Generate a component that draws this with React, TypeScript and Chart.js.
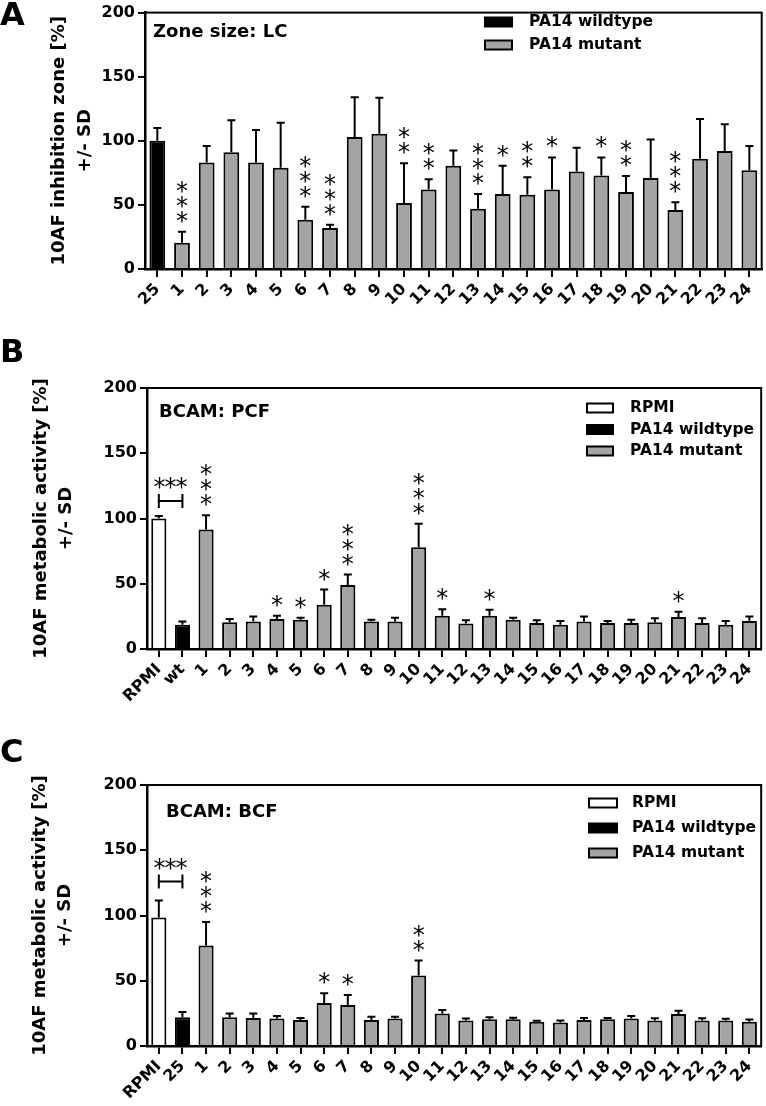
import React, { useEffect, useRef } from 'react';
import { Chart, registerables } from 'chart.js';

Chart.register(...registerables);

const FONT = '"DejaVu Sans", "Liberation Sans", sans-serif';
const GRAY = '#a4a4a4';
const BLACK = '#000000';
const WHITE = '#ffffff';

// ---------- Panel A: Zone size LC ----------
const catsA = ['25', '1', '2', '3', '4', '5', '6', '7', '8', '9', '10', '11', '12', '13', '14', '15', '16', '17', '18', '19', '20', '21', '22', '23', '24'];
const meanA = [100, 20.5, 83, 91, 83, 79, 38.5, 32, 103, 105.5, 51.5, 62, 80.5, 47, 58.5, 58, 62, 76, 73, 60, 71, 46, 86, 92, 77];
const sdA = [10, 8.5, 13, 25, 25.5, 35, 10, 2.5, 31, 28, 31, 8, 12, 11.5, 22, 13.5, 25, 18.5, 14, 12.5, 30, 6, 31, 21, 19];
const starsA = [0, 3, 0, 0, 0, 0, 3, 3, 0, 0, 2, 2, 0, 3, 1, 2, 1, 0, 1, 2, 0, 3, 0, 0, 0];

// ---------- Panel B: BCAM PCF ----------
const catsB = ['RPMI', 'wt', '1', '2', '3', '4', '5', '6', '7', '8', '9', '10', '11', '12', '13', '14', '15', '16', '17', '18', '19', '20', '21', '22', '23', '24'];
const meanB = [100, 18.5, 91.5, 20.5, 21, 23, 22.5, 34, 49, 21, 21, 78, 25.5, 19.5, 25.5, 22.5, 20, 18.5, 21, 20, 20, 20.5, 24.5, 20, 18.5, 21.5];
const sdB = [2, 2.5, 11, 2.5, 4, 2.5, 1.5, 11.5, 8, 1.5, 3, 18, 5, 2.5, 4.5, 1.5, 2, 3, 4, 1.5, 2.5, 3, 4, 3.5, 3, 3.5];
const starsB = [0, 0, 3, 0, 0, 1, 1, 1, 3, 0, 0, 3, 1, 0, 1, 0, 0, 0, 0, 0, 0, 0, 1, 0, 0, 0];

// ---------- Panel C: BCAM BCF ----------
const catsC = ['RPMI', '25', '1', '2', '3', '4', '5', '6', '7', '8', '9', '10', '11', '12', '13', '14', '15', '16', '17', '18', '19', '20', '21', '22', '23', '24'];
const meanC = [98.5, 22, 77, 22, 21.5, 21, 20, 33, 31.5, 20, 21, 54, 25, 19.5, 20.5, 20.5, 18.5, 18, 20, 20.5, 21, 19.5, 24.5, 19.5, 19.5, 18.5];
const sdC = [13, 4, 18, 3, 3.5, 2, 1.5, 7.5, 7.5, 2.5, 1.5, 11.5, 2.5, 1.5, 1.5, 1.2, 0.8, 1.5, 1.5, 1, 2, 1.8, 2.5, 1.8, 1.3, 1.8];
const starsC = [0, 0, 3, 0, 0, 0, 0, 1, 1, 0, 0, 2, 0, 0, 0, 0, 0, 0, 0, 0, 0, 0, 0, 0, 0, 0];

const yTicks = [0, 50, 100, 150, 200];

const legendA = [
  { label: 'PA14 wildtype', color: BLACK },
  { label: 'PA14 mutant', color: GRAY },
];
const legendBC = [
  { label: 'RPMI', color: WHITE },
  { label: 'PA14 wildtype', color: BLACK },
  { label: 'PA14 mutant', color: GRAY },
];

type PanelCfg = {
  top: number;
  height: number;
  areaLeft: number;
  areaRight: number;
  areaTop: number;
  areaBottom: number;
  letter: string;
  letterBaseline: number;
  title: string;
  titleX: number;
  titleBaseline: number;
  yTitle: string[];
  yTitleX: number[];
  legend: { label: string; color: string }[];
  legendBoxX: number;
  legendBoxW: number;
  legendTextX: number;
  legendRows: number[];
  cats: string[];
  means: number[];
  sds: number[];
  stars: number[];
  colors: string[];
  bracket?: number;
};

const panels: PanelCfg[] = [
  {
    top: 0, height: 335, areaLeft: 145, areaRight: 763, areaTop: 8, areaBottom: 269,
    letter: 'A', letterBaseline: 25,
    title: 'Zone size: LC', titleX: 153, titleBaseline: 37,
    yTitle: ['10AF inhibition zone [%]', '+/- SD'], yTitleX: [59, 85],
    legend: legendA, legendBoxX: 485, legendBoxW: 27, legendTextX: 529, legendRows: [22, 45],
    cats: catsA, means: meanA, sds: sdA, stars: starsA,
    colors: catsA.map((_, i) => (i === 0 ? BLACK : GRAY)),
  },
  {
    top: 335, height: 385, areaLeft: 147, areaRight: 763, areaTop: 53, areaBottom: 314,
    letter: 'B', letterBaseline: 27,
    title: 'BCAM: PCF', titleX: 159, titleBaseline: 82,
    yTitle: ['10AF metabolic activity [%]', '+/- SD'], yTitleX: [41, 66],
    legend: legendBC, legendBoxX: 587, legendBoxW: 26, legendTextX: 630, legendRows: [73, 94.5, 116],
    cats: catsB, means: meanB, sds: sdB, stars: starsB,
    colors: catsB.map((_, i) => (i === 0 ? WHITE : i === 1 ? BLACK : GRAY)),
    bracket: 113.5,
  },
  {
    top: 720, height: 386, areaLeft: 147, areaRight: 763, areaTop: 65, areaBottom: 326,
    letter: 'C', letterBaseline: 42,
    title: 'BCAM: BCF', titleX: 166, titleBaseline: 97,
    yTitle: ['10AF metabolic activity [%]', '+/- SD'], yTitleX: [40, 65],
    legend: legendBC, legendBoxX: 589, legendBoxW: 28, legendTextX: 632, legendRows: [83, 108, 133],
    cats: catsC, means: meanC, sds: sdC, stars: starsC,
    colors: catsC.map((_, i) => (i === 0 ? WHITE : i === 1 ? BLACK : GRAY)),
    bracket: 126,
  },
];

function drawStar(ctx: CanvasRenderingContext2D, x: number, cy: number) {
  ctx.font = `24px ${FONT}`;
  ctx.textAlign = 'center';
  ctx.textBaseline = 'alphabetic';
  ctx.fillText('*', x, cy + 10);
}

function makeDecor(cfg: PanelCfg) {
  return {
    id: 'decor',
    afterDatasetsDraw(chart: any) {
      const { ctx } = chart;
      const x = chart.scales.x;
      const y = chart.scales.y;
      ctx.save();
      ctx.strokeStyle = BLACK;
      ctx.fillStyle = BLACK;
      ctx.lineWidth = 2;
      cfg.means.forEach((m: number, i: number) => {
        const px = x.getPixelForValue(i);
        const y0 = y.getPixelForValue(m);
        const y1 = y.getPixelForValue(m + cfg.sds[i]);
        ctx.beginPath();
        ctx.moveTo(px, y0);
        ctx.lineTo(px, y1);
        ctx.moveTo(px - 4, y1);
        ctx.lineTo(px + 4, y1);
        ctx.stroke();
        for (let k = 0; k < cfg.stars[i]; k++) {
          drawStar(ctx, px, y1 - 13 - k * 15);
        }
      });
      if (cfg.bracket !== undefined) {
        const xa = x.getPixelForValue(0);
        const xb = x.getPixelForValue(1);
        const yb = y.getPixelForValue(cfg.bracket);
        ctx.beginPath();
        ctx.moveTo(xa, yb);
        ctx.lineTo(xb, yb);
        ctx.moveTo(xa, yb - 7);
        ctx.lineTo(xa, yb + 7);
        ctx.moveTo(xb, yb - 7);
        ctx.lineTo(xb, yb + 7);
        ctx.stroke();
        const mid = (xa + xb) / 2;
        drawStar(ctx, mid - 11, yb - 16);
        drawStar(ctx, mid, yb - 16);
        drawStar(ctx, mid + 11, yb - 16);
      }
      ctx.restore();
    },
    afterDraw(chart: any) {
      const { ctx, chartArea: a } = chart;
      ctx.save();
      ctx.strokeStyle = BLACK;
      ctx.fillStyle = BLACK;
      ctx.lineWidth = 2;
      ctx.strokeRect(a.left, a.top, a.right - a.left, a.bottom - a.top);

      // panel letter
      ctx.font = `bold 32px ${FONT}`;
      ctx.textAlign = 'left';
      ctx.textBaseline = 'alphabetic';
      ctx.fillText(cfg.letter, 0, cfg.letterBaseline);

      // panel title
      ctx.font = `bold 18px ${FONT}`;
      ctx.fillText(cfg.title, cfg.titleX, cfg.titleBaseline);

      // y axis title
      const cy = (a.top + a.bottom) / 2;
      ctx.font = `bold 18px ${FONT}`;
      ctx.textAlign = 'center';
      ctx.textBaseline = 'middle';
      cfg.yTitle.forEach((t: string, i: number) => {
        ctx.save();
        ctx.translate(cfg.yTitleX[i], cy);
        ctx.rotate(-Math.PI / 2);
        ctx.fillText(t, 0, 0);
        ctx.restore();
      });

      // legend
      ctx.font = `bold 15.5px ${FONT}`;
      ctx.textAlign = 'left';
      ctx.textBaseline = 'middle';
      cfg.legend.forEach((item, i) => {
        const ry = cfg.legendRows[i];
        ctx.fillStyle = item.color;
        ctx.fillRect(cfg.legendBoxX, ry - 4.5, cfg.legendBoxW, 9);
        ctx.strokeStyle = BLACK;
        ctx.lineWidth = 2;
        ctx.strokeRect(cfg.legendBoxX, ry - 4.5, cfg.legendBoxW, 9);
        ctx.fillStyle = BLACK;
        ctx.fillText(item.label, cfg.legendTextX, ry);
      });
      ctx.restore();
    },
  };
}

function Panel({ cfg }: { cfg: PanelCfg }) {
  const ref = useRef<HTMLCanvasElement>(null);
  useEffect(() => {
    const canvas = ref.current;
    if (!canvas) return;
    const chart = new Chart(canvas, {
      type: 'bar',
      data: {
        labels: cfg.cats,
        datasets: [
          {
            data: cfg.means,
            backgroundColor: cfg.colors,
            borderColor: BLACK,
            borderWidth: 2,
            barPercentage: 0.64,
            categoryPercentage: 1,
          },
        ],
      },
      options: {
        responsive: false,
        animation: false,
        devicePixelRatio: 1,
        layout: { padding: { top: cfg.areaTop, right: 766 - cfg.areaRight, left: 0, bottom: 0 } },
        plugins: {
          legend: { display: false },
          tooltip: { enabled: false },
          title: { display: false },
        },
        scales: {
          x: {
            type: 'category',
            offset: true,
            grid: {
              display: true,
              offset: false,
              drawOnChartArea: false,
              drawTicks: true,
              tickLength: 8,
              tickWidth: 2,
              tickColor: BLACK,
              color: BLACK,
              lineWidth: 2,
            },
            border: { display: true, color: BLACK, width: 2.5 },
            ticks: {
              autoSkip: false,
              minRotation: 45,
              maxRotation: 45,
              padding: 3,
              color: BLACK,
              font: { family: FONT, size: 16, weight: 'bold' },
            },
            afterFit: (s: any) => {
              s.height = cfg.height - cfg.areaBottom;
            },
          },
          y: {
            type: 'linear',
            min: 0,
            max: 200,
            afterBuildTicks: (s: any) => {
              s.ticks = yTicks.map((v) => ({ value: v }));
            },
            grid: {
              display: true,
              drawOnChartArea: false,
              drawTicks: true,
              tickLength: 7,
              tickWidth: 2,
              tickColor: BLACK,
              color: BLACK,
              lineWidth: 2,
            },
            border: { display: true, color: BLACK, width: 2.5 },
            ticks: {
              padding: 3,
              color: BLACK,
              font: { family: FONT, size: 16, weight: 'bold' },
            },
            afterFit: (s: any) => {
              s.width = cfg.areaLeft;
            },
          },
        },
      },
      plugins: [makeDecor(cfg)],
    } as any);
    return () => chart.destroy();
  }, [cfg]);
  return (
    <canvas
      ref={ref}
      width={766}
      height={cfg.height}
      style={{ position: 'absolute', left: 0, top: cfg.top, width: 766, height: cfg.height, display: 'block' }}
    />
  );
}

export default function App() {
  return (
    <div style={{ position: 'absolute', left: 0, top: 0, width: 766, height: 1106, background: '#fff' }}>
      {panels.map((p) => (
        <Panel key={p.letter} cfg={p} />
      ))}
    </div>
  );
}
